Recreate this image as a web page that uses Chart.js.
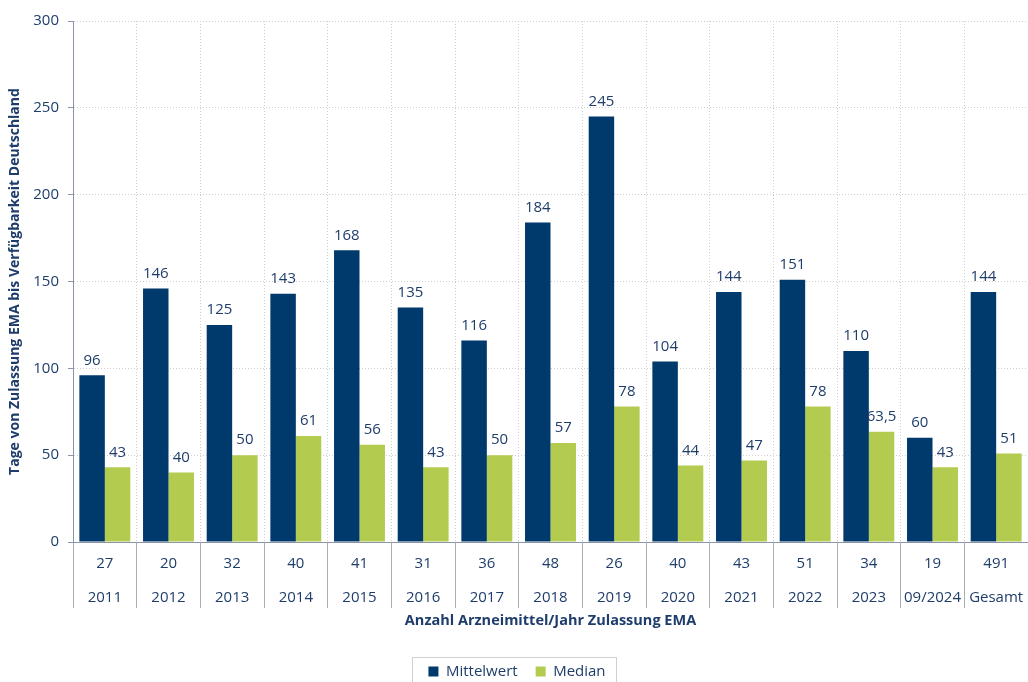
<!DOCTYPE html>
<html>
<head>
<meta charset="utf-8">
<script src="https://cdn.jsdelivr.net/npm/chart.js@4.4.1/dist/chart.umd.min.js"></script>
<style>
  html, body { margin: 0; padding: 0; background: #ffffff; }
  #wrap { width: 1028px; height: 682px; position: relative; }
</style>
</head>
<body>
<div id="wrap"><canvas id="c" width="1028" height="682"></canvas></div>
<script>
const categories = ['2011','2012','2013','2014','2015','2016','2017','2018','2019','2020','2021','2022','2023','09/2024','Gesamt'];
const counts = ['27','20','32','40','41','31','36','48','26','40','43','51','34','19','491'];
const mittelwert = [96,146,125,143,168,135,116,184,245,104,144,151,110,60,144];
const median = [43,40,50,61,56,43,50,57,78,44,47,78,63.5,43,51];
const yTicks = [0,50,100,150,200,250,300];

const FONT = "'Open Sans', 'Noto Sans', sans-serif";
const TXT = '#1F3D6B';
const BLUE = '#00396B';
const GREEN = '#B3CB4F';
const AXIS = '#8C95A8';
const GRID = '#CFCFCF';

const labels = categories.map((c, i) => [counts[i], c]);

const valueLabels = {
  id: 'valueLabels',
  afterDatasetsDraw(chart) {
    const ctx = chart.ctx;
    ctx.save();
    ctx.font = '15px ' + FONT;
    ctx.fillStyle = TXT;
    ctx.textAlign = 'center';
    ctx.textBaseline = 'middle';
    chart.data.datasets.forEach((ds, di) => {
      const meta = chart.getDatasetMeta(di);
      meta.data.forEach((bar, i) => {
        const v = ds.data[i];
        ctx.fillText(String(v).replace('.', ','), bar.x, bar.y - 15);
      });
    });
    ctx.restore();
  }
};

const legendBox = {
  id: 'legendBox',
  afterDraw(chart) {
    const lg = chart.legend;
    if (!lg || !lg.legendHitBoxes || !lg.legendHitBoxes.length) return;
    const hb = lg.legendHitBoxes;
    let l = Infinity, r = -Infinity, t = Infinity, b = -Infinity;
    hb.forEach(h => { l = Math.min(l, h.left); r = Math.max(r, h.left + h.width); t = Math.min(t, h.top); b = Math.max(b, h.top + h.height); });
    const cy = (t + b) / 2;
    const ctx = chart.ctx;
    ctx.save();
    ctx.strokeStyle = '#D0D0D0';
    ctx.lineWidth = 1;
    ctx.strokeRect(Math.round(l - 16) + 0.5, Math.round(cy - 15) + 0.5, Math.round(r - l + 27), 40);
    ctx.restore();
  }
};

new Chart(document.getElementById('c'), {
  type: 'bar',
  data: {
    labels: labels,
    datasets: [
      { label: 'Mittelwert', data: mittelwert, backgroundColor: BLUE, categoryPercentage: 0.8, barPercentage: 1.0 },
      { label: 'Median', data: median, backgroundColor: GREEN, categoryPercentage: 0.8, barPercentage: 1.0 }
    ]
  },
  options: {
    responsive: false,
    animation: false,
    devicePixelRatio: 1,
    layout: { padding: { top: 21, right: -6, left: 0, bottom: -7 } },
    plugins: {
      tooltip: { enabled: false },
      legend: {
        position: 'bottom',
        labels: {
          font: { family: FONT, size: 15 },
          color: TXT,
          boxWidth: 10,
          boxHeight: 10,
          padding: 18
        }
      }
    },
    scales: {
      x: {
        afterFit(scale) { scale.height = 104; },
        grid: {
          offset: true,
          color: GRID,
          lineWidth: 1,
          drawTicks: true,
          tickLength: 66,
          tickColor: '#A9AFBB',
          tickBorderDash: []
        },
        border: { display: true, color: AXIS, width: 1, dash: [1, 2] },
        ticks: {
          font: { family: FONT, size: 15, lineHeight: 2.25 },
          color: TXT,
          padding: -61,
          maxRotation: 0,
          autoSkip: false
        },
        title: {
          display: true,
          text: 'Anzahl Arzneimittel/Jahr Zulassung EMA',
          font: { family: FONT, size: 14.5, weight: 'bold', lineHeight: 1 },
          color: TXT,
          padding: { top: 0, bottom: 18 }
        }
      },
      y: {
        min: 0,
        max: 300,
        afterFit(scale) { scale.width = 73; },
        afterBuildTicks(scale) { scale.ticks = yTicks.map(v => ({ value: v })); },
        grid: {
          color: GRID,
          lineWidth: 1,
          drawTicks: true,
          tickLength: 5,
          tickColor: AXIS,
          tickBorderDash: []
        },
        border: { display: true, color: AXIS, width: 1, dash: [1, 2] },
        ticks: {
          font: { family: FONT, size: 15 },
          color: TXT,
          padding: 9
        },
        title: {
          display: true,
          text: 'Tage von Zulassung EMA bis Verfügbarkeit Deutschland',
          font: { family: FONT, size: 14, weight: 'bold', lineHeight: 1.2 },
          color: TXT,
          padding: { top: 7, bottom: 0 }
        }
      }
    }
  },
  plugins: [valueLabels, legendBox]
});
</script>
</body>
</html>
